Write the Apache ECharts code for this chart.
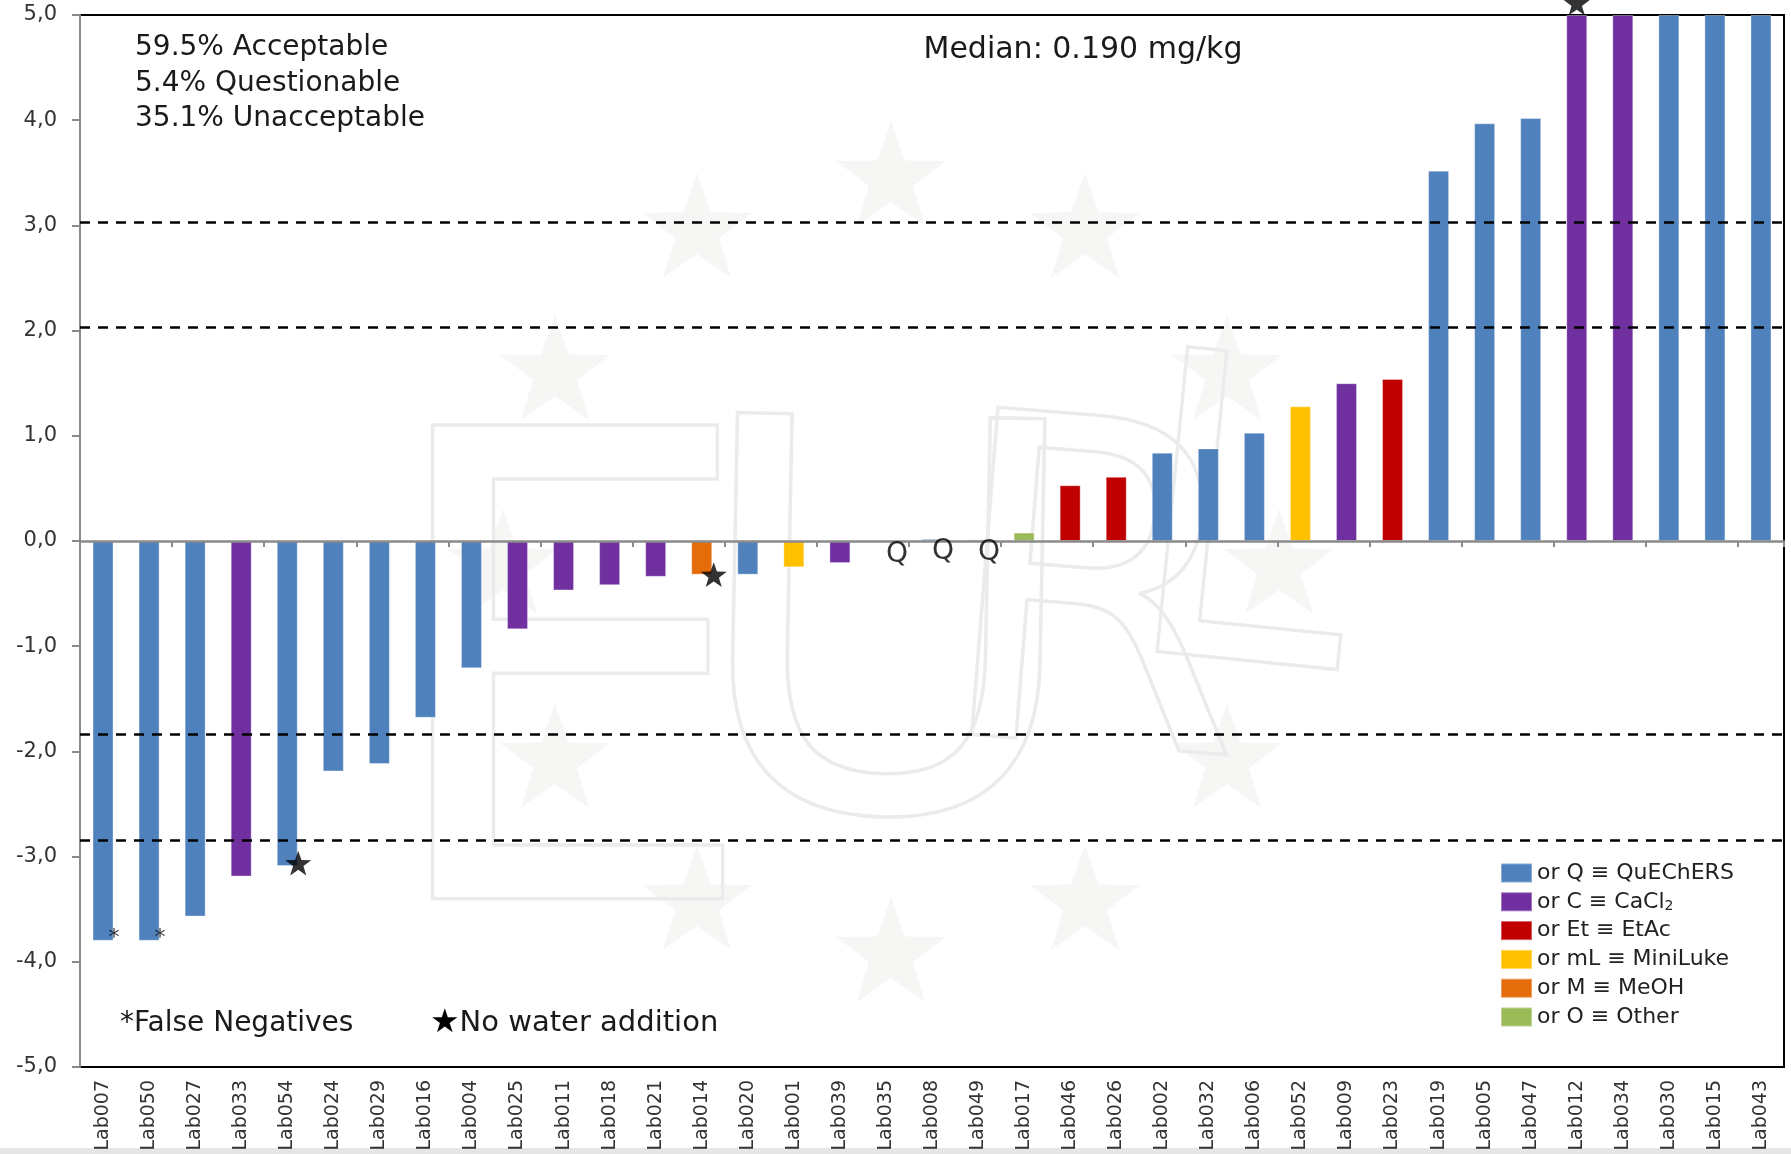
<!DOCTYPE html>
<html>
<head>
<meta charset="utf-8">
<script src="https://cdn.jsdelivr.net/npm/echarts@6/dist/echarts.min.js"></script>
<style>
  html, body { margin: 0; padding: 0; background: #ffffff; }
  #chart { width: 1791px; height: 1154px; }
</style>
</head>
<body>
<div id="chart"></div>
<script>
// Laboratories, ordered by z-score
const labs = [
  'Lab007','Lab050','Lab027','Lab033','Lab054','Lab024','Lab029','Lab016','Lab004','Lab025',
  'Lab011','Lab018','Lab021','Lab014','Lab020','Lab001','Lab039','Lab035','Lab008','Lab049',
  'Lab017','Lab046','Lab026','Lab002','Lab032','Lab006','Lab052','Lab009','Lab023','Lab019',
  'Lab005','Lab047','Lab012','Lab034','Lab030','Lab015','Lab043'
];
// z-scores (values above 5 are shown capped at 5,0)
const zScores = [
  -3.80, -3.80, -3.57, -3.19, -3.09, -2.19, -2.12, -1.68, -1.21, -0.84,
  -0.47, -0.42, -0.34, -0.32, -0.32, -0.25, -0.21, -0.01, 0.02, 0.015,
  0.08, 0.53, 0.61, 0.84, 0.88, 1.03, 1.28, 1.50, 1.54, 3.52,
  3.97, 4.02, 5.0, 5.0, 5.0, 5.0, 5.0
];
// Extraction method used by each laboratory
const methods = [
  'Q','Q','Q','C','Q','Q','Q','Q','Q','C',
  'C','C','C','M','Q','mL','C','Q','Q','Q',
  'O','Et','Et','Q','Q','Q','mL','C','Et','Q',
  'Q','Q','C','C','Q','Q','Q'
];
const methodKeys   = ['Q', 'C', 'Et', 'mL', 'M', 'O'];
const methodNames  = ['or Q \u2261 QuEChERS', 'or C \u2261 CaCl2', 'or Et \u2261 EtAc',
                      'or mL \u2261 MiniLuke', 'or M \u2261 MeOH', 'or O \u2261 Other'];
const methodColors = ['#4f81bd', '#7030a0', '#c00000', '#ffc000', '#e46c0a', '#9bbb59'];

// Limits drawn as dashed lines
const limitLines = [3.03, 2.03, -1.84, -2.84];

// Flagged laboratories
const falseNegLabs = ['Lab007', 'Lab050'];
const noWaterLabs  = ['Lab054', 'Lab014', 'Lab012'];
const qNoteLabs    = ['Lab035', 'Lab008', 'Lab049'];

// Summary texts
const summaryLines = ['59.5% Acceptable', '5.4% Questionable', '35.1% Unacceptable'];
const medianText = 'Median: 0.190 mg/kg';

const FONT = 'DejaVu Sans';
const zOf = lab => zScores[labs.indexOf(lab)];

// 5-point star outline
function starPoints(cx, cy, ro, ri) {
  const pts = [];
  for (let i = 0; i < 10; i++) {
    const r = i % 2 === 0 ? ro : ri;
    const a = -Math.PI / 2 + i * Math.PI / 5;
    pts.push([cx + r * Math.cos(a), cy + r * Math.sin(a)]);
  }
  return pts;
}
const starSymbol = 'path://' + starPoints(50, 50, 50, 20)
  .map((p, i) => (i ? 'L' : 'M') + p[0].toFixed(2) + ',' + p[1].toFixed(2)).join(' ') + ' Z';

// Faint emblem behind the plot: ring of twelve stars and outlined letters
const emblem = [];
for (let k = 0; k < 12; k++) {
  const a = -Math.PI / 2 + k * Math.PI / 6;
  emblem.push({
    type: 'polygon', silent: true, z: -5,
    shape: { points: starPoints(891 + 388 * Math.cos(a), 567 + 388 * Math.sin(a), 58, 23) },
    style: { fill: '#f6f6f4' }
  });
}
const letters = [
  { t: 'E', x: 372, y: 405, s: 650, sx: 0.95, r: 0 },
  { t: 'U', x: 690, y: 395, s: 540, sx: 1.02, r: 0.02 },
  { t: 'R', x: 955, y: 390, s: 450, sx: 1.0, r: 0.08 },
  { t: 'L', x: 1150, y: 330, s: 420, sx: 0.95, r: 0.1 }
];
letters.forEach(L => {
  emblem.push({
    type: 'text', silent: true, z: -4, x: L.x, y: L.y, scaleX: L.sx, rotation: -L.r,
    style: {
      text: L.t, fontFamily: FONT, fontSize: L.s, fill: 'rgba(0,0,0,0)',
      stroke: '#ebebeb', lineWidth: 3.5, align: 'left', verticalAlign: 'top'
    }
  });
});

const annotations = [];
summaryLines.forEach((t, i) => {
  annotations.push({
    type: 'text', x: 135, y: 48 + i * 35.5, z: 10,
    style: { text: t, fontFamily: FONT, fontSize: 28, fill: '#1a1a1a', align: 'left', verticalAlign: 'middle' }
  });
});
annotations.push({
  type: 'text', x: 1083, y: 50, z: 10,
  style: { text: medianText, fontFamily: FONT, fontSize: 30, fill: '#1a1a1a', align: 'center', verticalAlign: 'middle' }
});
annotations.push({
  type: 'text', x: 120, y: 1024, z: 10,
  style: { text: '*False Negatives', fontFamily: FONT, fontSize: 28, fill: '#1a1a1a', align: 'left', verticalAlign: 'middle' }
});
annotations.push({
  type: 'text', x: 430, y: 1023, z: 10,
  style: {
    text: '{s|\u2605}No water addition', fontFamily: FONT, fontSize: 29, fill: '#1a1a1a', align: 'left', verticalAlign: 'middle',
    rich: { s: { fontFamily: FONT, fontSize: 33, fill: '#000' } }
  }
});
annotations.push({
  type: 'rect', z: -6, shape: { x: 0, y: 1148, width: 1791, height: 6 }, style: { fill: '#e6e6e6' }
});

// One bar series per method; all overlap in the same slot
const barSeries = methodKeys.map((key, m) => ({
  name: methodNames[m],
  type: 'bar',
  xAxisIndex: 0,
  barWidth: 21,
  barGap: '-100%',
  itemStyle: { color: methodColors[m], borderColor: 'rgba(255,255,255,0.35)', borderWidth: 1 },
  data: zScores.map((v, i) => methods[i] === key ? v : '-')
}));
barSeries[0].markLine = {
  silent: true,
  symbol: ['none', 'none'],
  label: { show: false },
  lineStyle: { color: '#000', type: [10, 8], width: 2.5 },
  data: limitLines.map(v => ({ yAxis: v }))
};

const starOffsets = { Lab054: [11, -3], Lab014: [12, 0], Lab012: [0, -12] };

const option = {
  backgroundColor: '#ffffff',
  animation: false,
  textStyle: { fontFamily: FONT },
  graphic: emblem.concat(annotations),
  grid: {
    left: 80, right: 7, top: 15, bottom: 87,
    show: true, borderColor: '#000', borderWidth: 2, backgroundColor: 'rgba(0,0,0,0)'
  },
  legend: {
    orient: 'vertical',
    left: 1500, top: 861,
    itemWidth: 31, itemHeight: 19, itemGap: 4.8,
    icon: 'rect',
    selectedMode: false,
    padding: 0,
    data: methodNames,
    formatter: n => n.replace('CaCl2', 'CaCl{sub|2}'),
    textStyle: {
      fontFamily: FONT, fontSize: 22, lineHeight: 24, color: '#222',
      rich: { sub: { fontFamily: FONT, fontSize: 14, lineHeight: 14, verticalAlign: 'bottom', color: '#222' } }
    }
  },
  xAxis: [
    {
      type: 'category', data: labs, position: 'bottom', z: 5,
      axisLine: { onZero: true, lineStyle: { color: '#8a8a8a', width: 2.5 } },
      axisTick: { show: true, length: 6, lineStyle: { color: '#8a8a8a', width: 2 } },
      axisLabel: { show: false },
      splitLine: { show: false }
    },
    {
      type: 'category', data: labs, position: 'bottom',
      axisLine: { show: false, onZero: false },
      axisTick: { show: false },
      axisLabel: { show: true, interval: 0, rotate: 90, margin: 13, fontSize: 19, color: '#333', fontFamily: FONT },
      splitLine: { show: false }
    }
  ],
  yAxis: {
    type: 'value', min: -5, max: 5, interval: 1,
    axisLine: { show: true, lineStyle: { color: '#8a8a8a', width: 2 } },
    axisTick: { show: true, length: 8, lineStyle: { color: '#8a8a8a', width: 2 } },
    axisLabel: { margin: 23, fontSize: 21, color: '#333', fontFamily: FONT,
                 formatter: v => v.toFixed(1).replace('.', ',') },
    splitLine: { show: false }
  },
  series: barSeries.concat([
    {
      name: 'noWater', type: 'scatter', xAxisIndex: 0, clip: false, z: 6,
      symbol: starSymbol, symbolSize: 26, symbolKeepAspect: true,
      itemStyle: { color: '#000' },
      data: noWaterLabs.map(l => ({ value: [l, zOf(l)], symbolOffset: starOffsets[l] }))
    },
    {
      name: 'falseNeg', type: 'scatter', xAxisIndex: 0, clip: false, z: 6,
      symbol: 'circle', symbolSize: 1, itemStyle: { color: 'rgba(0,0,0,0)' },
      label: { show: true, position: 'inside', formatter: '*', fontSize: 22, color: '#000', offset: [11, -2], fontFamily: FONT },
      data: falseNegLabs.map(l => [l, zOf(l)])
    },
    {
      name: 'qNote', type: 'scatter', xAxisIndex: 0, clip: false, z: 6,
      symbol: 'circle', symbolSize: 1, itemStyle: { color: 'rgba(0,0,0,0)' },
      label: { show: true, position: 'inside', formatter: 'Q', fontSize: 28, color: '#000', offset: [11, 13], fontFamily: FONT },
      data: qNoteLabs.map(l => [l, zOf(l)])
    }
  ])
};

const chart = echarts.init(document.getElementById('chart'), null, { renderer: 'canvas' });
chart.setOption(option);
</script>
</body>
</html>
